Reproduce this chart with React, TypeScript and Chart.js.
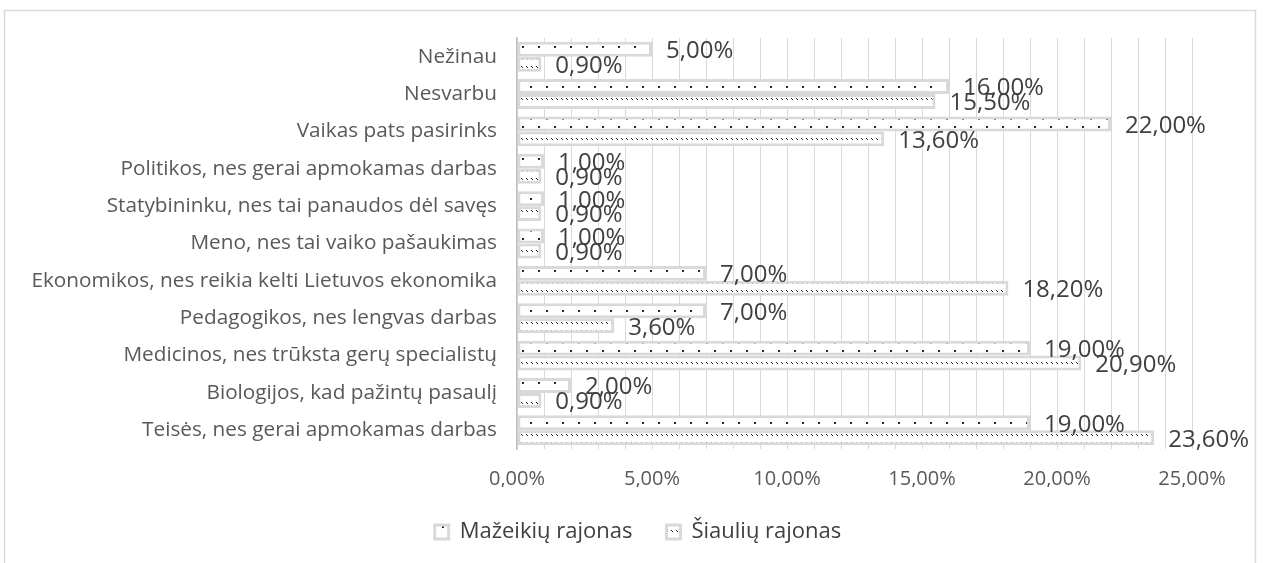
import React, { useEffect, useRef } from 'react';
import { Chart, registerables } from 'chart.js';

Chart.register(...registerables);

const categories = [
  'Nežinau',
  'Nesvarbu',
  'Vaikas pats pasirinks',
  'Politikos, nes gerai apmokamas darbas',
  'Statybininku, nes tai panaudos dėl savęs',
  'Meno, nes tai vaiko pašaukimas',
  'Ekonomikos, nes reikia kelti Lietuvos ekonomika',
  'Pedagogikos, nes lengvas darbas',
  'Medicinos, nes trūksta gerų specialistų',
  'Biologijos, kad pažintų pasaulį',
  'Teisės, nes gerai apmokamas darbas',
];
const seriesNames = ['Mažeikių rajonas', 'Šiaulių rajonas'];
const mazeikiai = [5.0, 16.0, 22.0, 1.0, 1.0, 1.0, 7.0, 7.0, 19.0, 2.0, 19.0];
const siauliai = [0.9, 15.5, 13.6, 0.9, 0.9, 0.9, 18.2, 3.6, 20.9, 0.9, 23.6];
const xMin = 0;
const xMax = 25;
const xStep = 1;
const xLabelStep = 5;

const FONT = '"Open Sans", Lato, sans-serif';

const fmt = (v: number) => v.toFixed(2).replace('.', ',') + '%';

function makePattern(kind: 'sparse' | 'dense'): CanvasPattern | string {
  const c = document.createElement('canvas');
  const ctx = c.getContext('2d');
  if (!ctx) return '#ffffff';
  if (kind === 'sparse') {
    c.width = 16;
    c.height = 16;
    ctx.fillStyle = '#ffffff';
    ctx.fillRect(0, 0, 16, 16);
    ctx.fillStyle = '#262626';
    ctx.fillRect(2, 6, 2, 2);
    ctx.fillRect(10, 14, 2, 2);
  } else {
    c.width = 5;
    c.height = 8;
    ctx.fillStyle = '#ffffff';
    ctx.fillRect(0, 0, 5, 8);
    ctx.fillStyle = '#202020';
    ctx.fillRect(1, 2, 1, 1);
    ctx.fillRect(2, 3, 1, 1);
  }
  const p = ctx.createPattern(c, 'repeat');
  return p || '#ffffff';
}

const framePlugin = {
  id: 'frame',
  afterLayout(chart: any) {
    // let the category labels use the full width to the left of the axis
    if (chart.scales && chart.scales.y) chart.scales.y.left = 0;
  },
  beforeDraw(chart: any) {
    const ctx = chart.ctx;
    ctx.save();
    ctx.fillStyle = '#ffffff';
    ctx.fillRect(0, 0, chart.width, chart.height);
    ctx.strokeStyle = '#d9d9d9';
    ctx.lineWidth = 1.5;
    ctx.strokeRect(4.5, 10.5, 1251, 600);
    ctx.restore();
  },
};

const valueLabelPlugin = {
  id: 'valueLabels',
  afterDatasetsDraw(chart: any) {
    const ctx = chart.ctx;
    ctx.save();
    ctx.font = `24px ${FONT}`;
    ctx.fillStyle = '#404040';
    ctx.textAlign = 'left';
    ctx.textBaseline = 'middle';
    chart.data.datasets.forEach((ds: any, i: number) => {
      const meta = chart.getDatasetMeta(i);
      meta.data.forEach((el: any, j: number) => {
        ctx.fillText(fmt(ds.data[j]), el.x + 14, el.y + 2);
      });
    });
    ctx.restore();
  },
};

export default function App() {
  const ref = useRef<HTMLCanvasElement | null>(null);

  useEffect(() => {
    if (!ref.current) return;
    const pSparse = makePattern('sparse');
    const pDense = makePattern('dense');
    const chart = new Chart(ref.current, {
      type: 'bar',
      data: {
        labels: categories,
        datasets: [
          {
            label: seriesNames[0],
            data: mazeikiai,
            backgroundColor: pSparse as any,
            borderColor: '#d9d9d9',
            borderWidth: 3,
            borderSkipped: false,
            categoryPercentage: 0.8,
            barPercentage: 1.0,
          },
          {
            label: seriesNames[1],
            data: siauliai,
            backgroundColor: pDense as any,
            borderColor: '#d9d9d9',
            borderWidth: 3,
            borderSkipped: false,
            categoryPercentage: 0.8,
            barPercentage: 1.0,
          },
        ],
      },
      options: {
        indexAxis: 'y',
        animation: false,
        responsive: false,
        maintainAspectRatio: false,
        devicePixelRatio: 1,
        layout: { padding: { top: 38, left: 84, right: 73, bottom: 10 } },
        plugins: {
          tooltip: { enabled: false },
          legend: {
            position: 'bottom',
            labels: {
              font: { family: FONT, size: 22 },
              color: '#404040',
              boxWidth: 14,
              boxHeight: 14,
              padding: 34,
            },
          },
        },
        scales: {
          x: {
            min: xMin,
            max: xMax,
            grid: { color: '#d9d9d9', lineWidth: 1, drawTicks: false },
            border: { display: false },
            ticks: {
              stepSize: xStep,
              autoSkip: false,
              maxRotation: 0,
              padding: 18,
              color: '#595959',
              font: { family: FONT, size: 20 },
              callback: (v: any) => (Number(v) % xLabelStep === 0 ? fmt(Number(v)) : ''),
            },
            afterFit: (s: any) => {
              s.height = 38;
            },
          },
          y: {
            grid: { display: false, drawTicks: false },
            border: { display: true, color: '#bfbfbf', width: 1.5 },
            ticks: {
              padding: 20,
              color: '#595959',
              font: { family: FONT, size: 20.75 },
              autoSkip: false,
            },
            afterFit: (s: any) => {
              s.width = 433;
            },
          },
        },
      },
      plugins: [framePlugin, valueLabelPlugin],
    });
    return () => chart.destroy();
  }, []);

  return (
    <div style={{ position: 'absolute', left: 0, top: 0, width: 1265, height: 563 }}>
      <canvas ref={ref} width={1265} height={563} style={{ width: 1265, height: 563 }} />
    </div>
  );
}
